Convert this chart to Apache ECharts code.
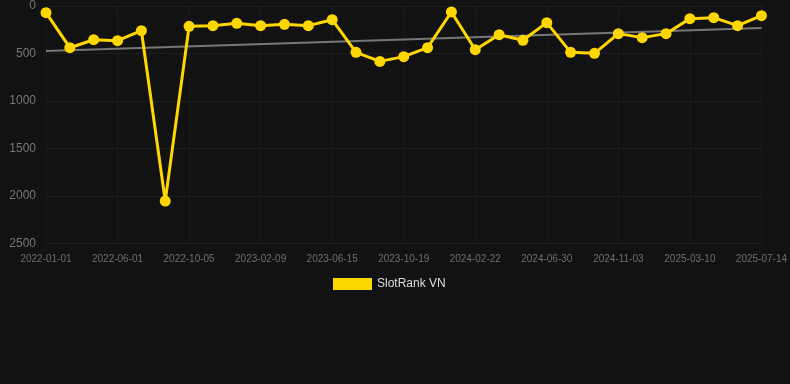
<!DOCTYPE html>
<html><head><meta charset="utf-8">
<script src="https://cdn.jsdelivr.net/npm/echarts@6/dist/echarts.min.js"></script>
<style>html,body{margin:0;padding:0;background:#121212;}#c{width:790px;height:384px;}</style>
</head><body><div id="c"></div>
<script>
var categories = ["2022-01-01","2022-02-20","2022-04-11","2022-06-01","2022-07-13","2022-08-24","2022-10-05","2022-11-16","2022-12-28","2023-02-09","2023-03-23","2023-05-04","2023-06-15","2023-07-27","2023-09-07","2023-10-19","2023-11-30","2024-01-11","2024-02-22","2024-04-04","2024-05-17","2024-06-30","2024-08-11","2024-09-22","2024-11-03","2024-12-15","2025-01-27","2025-03-10","2025-04-21","2025-06-02","2025-07-14"];
var rankValues = [70,439,355,365,260,2053,214,207,182,207,193,207,144,488,583,533,439,63,460,302,361,175,488,498,291,333,291,133,123,207,102];
var trendStart = 474;
var trendEnd = 232;
var seriesName = "SlotRank VN";

var trend = categories.map(function(_, i){ return i === 0 ? trendStart : (i === categories.length - 1 ? trendEnd : null); });

var chart = echarts.init(document.getElementById('c'));
chart.setOption({
  backgroundColor: '#121212',
  animation: false,
  grid: {left: 46, right: 28, top: 6, bottom: 140.5},
  legend: {
    data: [{name: seriesName, icon: 'rect'}],
    top: 273, left: 328, itemWidth: 39, itemHeight: 12, itemGap: 6,
    textStyle: {color: '#dddddd', fontSize: 12, fontFamily: 'Liberation Sans, Arial, sans-serif'}
  },
  xAxis: {
    type: 'category', data: categories, boundaryGap: false,
    axisLine: {show: false},
    axisTick: {show: true, interval: 2, length: 4, lineStyle: {color: '#222222'}},
    axisLabel: {interval: 2, color: '#6e6e6e', fontSize: 10, margin: 11, fontFamily: 'Liberation Sans, Arial, sans-serif'},
    splitLine: {show: true, interval: 2, lineStyle: {color: '#1a1a1a'}}
  },
  yAxis: {
    type: 'value', inverse: true, min: 0, max: 2500, interval: 500,
    axisLine: {show: false}, axisTick: {show: false},
    axisLabel: {color: '#777777', fontSize: 12, margin: 10, fontFamily: 'Liberation Sans, Arial, sans-serif',
      formatter: function(v){ return String(v); }},
    splitLine: {lineStyle: {color: '#1d1d1d'}}
  },
  series: [
    {
      name: 'trend', type: 'line', data: trend, connectNulls: true,
      symbol: 'none', lineStyle: {color: '#777777', width: 2}, z: 1, silent: true
    },
    {
      name: seriesName, type: 'line', data: rankValues,
      symbol: 'circle', symbolSize: 11,
      itemStyle: {color: '#FFD700'},
      lineStyle: {color: '#FFD700', width: 3}, z: 2
    }
  ]
});
</script></body></html>
